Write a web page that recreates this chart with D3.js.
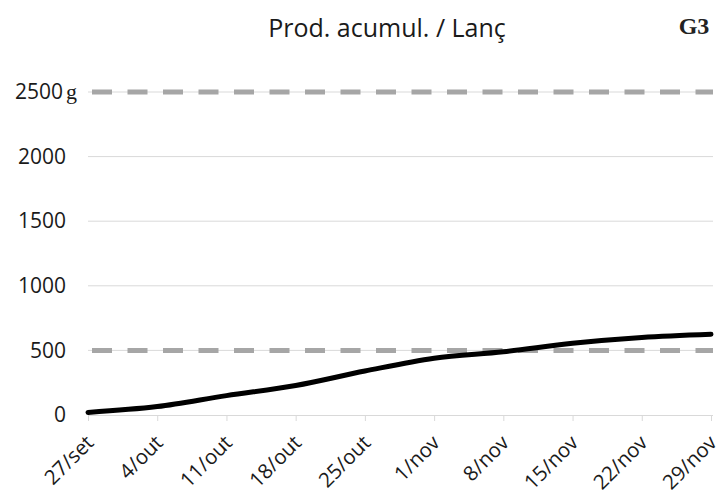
<!DOCTYPE html>
<html>
<head>
<meta charset="utf-8">
<script src="https://cdn.jsdelivr.net/npm/d3@7"></script>
<style>
  html, body { margin: 0; padding: 0; background: #fff; }
  svg { display: block; }
</style>
</head>
<body>
<svg id="chart" width="721" height="498"></svg>
<script>
// Weekly sample dates and cumulative production (g)
const dates = ["27/set", "4/out", "11/out", "18/out", "25/out", "1/nov", "8/nov", "15/nov", "22/nov", "29/nov"];
const cumulative = [20, 65, 150, 228, 340, 440, 490, 555, 600, 625];
const yTicks = [0, 500, 1000, 1500, 2000, 2500];
const limitLines = [500, 2500];

const title = "Prod. acumul. / Lanç";
const tag = "G3";

const svg = d3.select("#chart");
const plotLeft = 88, plotRight = 711, plotTop = 92, plotBottom = 415;

const x = d3.scalePoint().domain(dates).range([plotLeft, plotRight]);
const y = d3.scaleLinear().domain([0, 2500]).range([plotBottom, plotTop]);

const sans = "'Open Sans', 'Noto Sans', sans-serif";
const serif = "'Liberation Serif', 'DejaVu Serif', serif";

// Title and tag
svg.append("text")
  .attr("x", 387).attr("y", 37)
  .attr("text-anchor", "middle")
  .style("font-family", sans).style("font-size", "25px").attr("fill", "#1a1a1a")
  .text(title);

svg.append("text")
  .attr("x", 694).attr("y", 34)
  .attr("text-anchor", "middle")
  .style("font-family", serif)
  .style("font-size", "24px").style("font-weight", "bold").attr("fill", "#222")
  .text(tag);

// Horizontal gridlines
svg.append("g")
  .selectAll("line")
  .data(yTicks.filter(d => d > 0))
  .join("line")
  .attr("x1", plotLeft).attr("x2", plotRight + 2)
  .attr("y1", d => y(d)).attr("y2", d => y(d))
  .attr("stroke", "#d9d9d9").attr("stroke-width", 1);

// Dashed reference limits
svg.append("g")
  .selectAll("line")
  .data(limitLines)
  .join("line")
  .attr("x1", plotLeft + 4).attr("x2", plotRight + 2)
  .attr("y1", d => y(d)).attr("y2", d => y(d))
  .attr("stroke", "#a6a6a6").attr("stroke-width", 5)
  .attr("stroke-dasharray", "20,15.5");

// Y axis labels
const yAxis = d3.axisLeft(y).tickValues(yTicks).tickSize(0).tickPadding(0).tickFormat(d3.format("d"));
const gy = svg.append("g").attr("transform", "translate(66,0)").call(yAxis);
gy.select(".domain").remove();
gy.selectAll("text")
  .style("font-family", sans).style("font-size", "21px").attr("fill", "#1a1a1a");
gy.selectAll(".tick").filter(d => d === 2500).select("text")
  .attr("text-anchor", "start")
  .attr("x", -51)
  .append("tspan")
  .attr("dx", 3)
  .style("font-family", serif)
  .style("font-size", "22px")
  .text("g");

// X axis
const xAxis = d3.axisBottom(x).tickSize(6).tickSizeOuter(0).tickPadding(8);
const gx = svg.append("g").attr("transform", `translate(0,${plotBottom})`).call(xAxis);
gx.select(".domain").attr("stroke", "#d9d9d9").attr("d", `M${plotLeft},0.5H${plotRight + 2}`);
gx.selectAll(".tick line").attr("stroke", "#d9d9d9");
gx.selectAll(".tick text")
  .style("font-family", sans).style("font-size", "20.5px").attr("fill", "#1a1a1a")
  .attr("text-anchor", "end")
  .attr("dy", 0)
  .attr("x", 0).attr("y", 0)
  .attr("transform", "translate(6.5,29) rotate(-45)");

// Cumulative production line
const line = d3.line()
  .x((d, i) => x(dates[i]))
  .y(d => y(d))
  .curve(d3.curveCatmullRom.alpha(0));

svg.append("path")
  .datum(cumulative)
  .attr("d", line)
  .attr("fill", "none")
  .attr("stroke", "#000")
  .attr("stroke-width", 5)
  .attr("stroke-linecap", "round");
</script>
</body>
</html>
